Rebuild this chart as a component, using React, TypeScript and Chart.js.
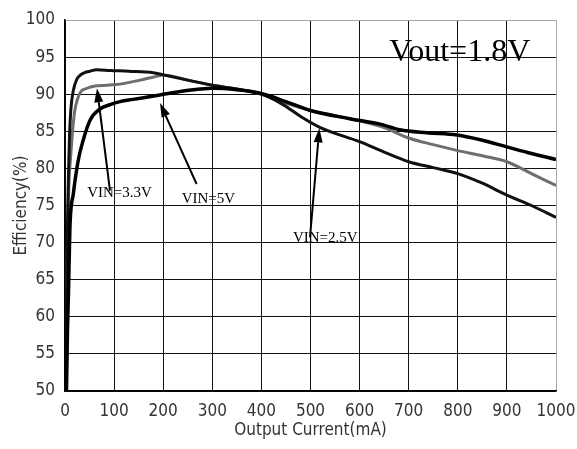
import React, { useEffect, useRef } from "react";
import { Chart, registerables } from "chart.js";

Chart.register(...registerables);

// VIN = 2.5V (black, highest at light load, lowest at heavy load)
const current25 = [1, 3, 5, 7, 9, 12, 17, 24, 30, 40, 51, 64, 92, 130, 180, 200, 250, 300, 350, 400, 444, 480, 520, 600, 650, 700, 750, 800, 850, 900, 950, 1000];
const eff25 = [50, 62, 72, 79, 84, 88, 90.5, 92.0, 92.5, 92.9, 93.1, 93.3, 93.2, 93.1, 92.9, 92.6, 91.9, 91.2, 90.7, 90.0, 88.6, 87.0, 85.5, 83.6, 82.2, 80.9, 80.1, 79.3, 78.0, 76.4, 75.0, 73.4];

// VIN = 3.3V (gray)
const current33 = [1, 3, 5, 8, 12, 16, 20, 30, 45, 61, 105, 153, 193, 200, 250, 300, 350, 400, 450, 500, 580, 600, 650, 700, 750, 800, 850, 900, 950, 1000];
const eff33 = [50, 60, 70, 78, 82, 85.5, 87.8, 90.1, 90.8, 91.1, 91.3, 91.9, 92.5, 92.6, 91.9, 91.2, 90.7, 90.0, 88.8, 87.8, 86.7, 86.4, 85.5, 84.1, 83.2, 82.4, 81.7, 80.9, 79.3, 77.7];

// VIN = 5V (black, lowest at light load, highest at heavy load)
const current5 = [1, 3, 5, 7, 10, 17, 27, 37, 51, 71, 92, 112, 139, 193, 248, 275, 300, 350, 400, 450, 500, 580, 640, 682, 737, 798, 850, 900, 950, 1000];
const eff5 = [48, 50, 58, 63, 72, 76.6, 81.1, 83.8, 86.5, 88.0, 88.6, 89.0, 89.3, 89.9, 90.5, 90.7, 90.8, 90.6, 90.1, 89.0, 87.8, 86.7, 86.0, 85.2, 84.8, 84.5, 83.8, 82.9, 82.0, 81.2];

const xTicksMin = 0;
const xTicksMax = 1000;
const yTicksMin = 50;
const yTicksMax = 100;

// annotations (data units)
const labelTexts = ["VIN=3.3V", "VIN=5V", "VIN=2.5V"];
const labelX = [111, 292, 530];
const labelY = [76.1, 75.3, 70.1];
const arrowTailX = [91.6, 268, 499];
const arrowTailY = [77.0, 77.9, 70.7];
const arrowTipX = [65.2, 193.5, 518];
const arrowTipY = [90.8, 88.8, 85.4];
const titleText = "Vout=1.8V";
const titleX = 804;
const titleY = 94.5;

const pts = (xs: number[], ys: number[]) => xs.map((x, i) => ({ x, y: ys[i] }));

const annotPlugin = {
  id: "annots",
  afterDatasetsDraw(chart: any) {
    const { ctx, scales } = chart;
    const xs = scales.x;
    const ys = scales.y;
    ctx.save();
    ctx.strokeStyle = "#000";
    ctx.fillStyle = "#000";
    ctx.lineWidth = 2;
    for (let i = 0; i < arrowTipX.length; i++) {
      const x0 = xs.getPixelForValue(arrowTailX[i]);
      const y0 = ys.getPixelForValue(arrowTailY[i]);
      const x1 = xs.getPixelForValue(arrowTipX[i]);
      const y1 = ys.getPixelForValue(arrowTipY[i]);
      const ang = Math.atan2(y1 - y0, x1 - x0);
      const len = 14;
      const half = 4.5;
      const bx = x1 - len * Math.cos(ang);
      const by = y1 - len * Math.sin(ang);
      ctx.beginPath();
      ctx.moveTo(x0, y0);
      ctx.lineTo(bx, by);
      ctx.stroke();
      ctx.beginPath();
      ctx.moveTo(x1, y1);
      ctx.lineTo(bx + half * Math.sin(ang), by - half * Math.cos(ang));
      ctx.lineTo(bx - half * Math.sin(ang), by + half * Math.cos(ang));
      ctx.closePath();
      ctx.fill();
    }
    ctx.textAlign = "center";
    ctx.textBaseline = "alphabetic";
    ctx.font = "15px 'Liberation Serif', serif";
    for (let i = 0; i < labelTexts.length; i++) {
      ctx.fillText(labelTexts[i], xs.getPixelForValue(labelX[i]), ys.getPixelForValue(labelY[i]));
    }
    ctx.font = "32px 'Liberation Serif', serif";
    ctx.fillText(titleText, xs.getPixelForValue(titleX), ys.getPixelForValue(titleY));
    ctx.restore();
  },
};

export default function App() {
  const ref = useRef<HTMLCanvasElement | null>(null);
  useEffect(() => {
    if (!ref.current) return;
    const tickFont = { family: "'DejaVu Sans Condensed', 'DejaVu Sans', sans-serif", size: 17 };
    const chart = new Chart(ref.current, {
      type: "line",
      data: {
        datasets: [
          {
            label: "VIN=5V",
            data: pts(current5, eff5),
            borderColor: "#000",
            borderWidth: 3.5,
            pointRadius: 0,
            cubicInterpolationMode: "monotone",
          },
          {
            label: "VIN=2.5V",
            data: pts(current25, eff25),
            borderColor: "#111",
            borderWidth: 3,
            pointRadius: 0,
            cubicInterpolationMode: "monotone",
          },
          {
            label: "VIN=3.3V",
            data: pts(current33, eff33),
            borderColor: "#6e6e6e",
            borderWidth: 3,
            pointRadius: 0,
            cubicInterpolationMode: "monotone",
          },
        ],
      },
      options: {
        animation: false,
        responsive: false,
        maintainAspectRatio: false,
        layout: { padding: { top: 20, right: 21, left: 0, bottom: 0 } },
        plugins: { legend: { display: false }, tooltip: { enabled: false } },
        scales: {
          x: {
            type: "linear",
            min: xTicksMin,
            max: xTicksMax,
            afterFit: (s: any) => { s.height = 58; s.paddingRight = 0; s.paddingLeft = 0; },
            ticks: { stepSize: 100, color: "#333", font: tickFont, padding: 10, maxRotation: 0, callback: (v: any) => String(v) },
            grid: {
              drawTicks: false,
              color: (c: any) => (c.tick && c.tick.value === xTicksMax ? "#a8a8a8" : "#111"),
              lineWidth: 1,
            },
            border: { color: "#000", width: 1.5 },
            title: { display: true, text: "Output Current(mA)", color: "#333", font: tickFont, padding: { top: 0, bottom: 8 } },
          },
          y: {
            type: "linear",
            min: yTicksMin,
            max: yTicksMax,
            afterFit: (s: any) => { s.width = 65; s.paddingTop = 0; s.paddingBottom = 0; },
            ticks: { stepSize: 5, color: "#333", font: tickFont, padding: 10, callback: (v: any) => String(v) },
            grid: {
              drawTicks: false,
              color: (c: any) => (c.tick && c.tick.value === yTicksMax ? "#a8a8a8" : "#111"),
              lineWidth: 1,
            },
            border: { color: "#000", width: 1.5 },
            title: { display: true, text: "Efficiency(%)", color: "#333", font: tickFont, padding: { top: 11, bottom: 0 } },
          },
        },
      },
      plugins: [annotPlugin],
    } as any);
    return () => chart.destroy();
  }, []);
  return (
    <div style={{ position: "fixed", left: 0, top: 0, width: 577, height: 449, background: "#fff" }}>
      <canvas ref={ref} width={577} height={449} style={{ width: 577, height: 449 }} />
    </div>
  );
}
